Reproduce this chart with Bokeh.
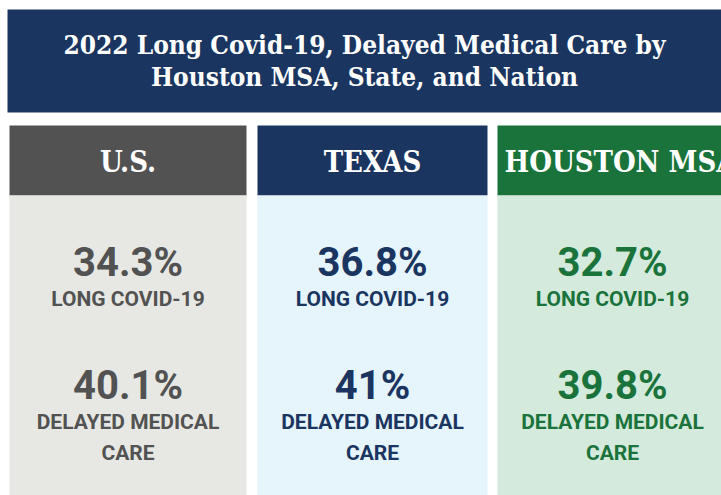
from bokeh.plotting import figure
from bokeh.models import Range1d
from bokeh.core.properties import value
from bokeh.embed import file_html
from bokeh.resources import INLINE

title_lines = ["2022 Long Covid-19, Delayed Medical Care by", "Houston MSA, State, and Nation"]
regions = ["U.S.", "TEXAS", "HOUSTON MSA"]
long_covid = [34.3, 36.8, 32.7]
delayed_care = [40.1, 41.0, 39.8]
long_covid_label = "LONG COVID-19"
delayed_label_lines = ["DELAYED MEDICAL", "CARE"]

header_colors = ["#525252", "#1a3560", "#19733a"]
body_colors = ["#e7e8e4", "#e6f4fc", "#d4eadc"]
col_left = [9, 257, 497]
col_right = [246, 487, 730]

def fmt(v):
    return f"{v:g}%"

p = figure(width=721, height=495, x_range=Range1d(0, 721), y_range=Range1d(495, 0),
           output_backend="svg", toolbar_location=None, min_border=0)
p.axis.visible = False
p.grid.visible = False
p.outline_line_color = None
p.background_fill_color = "white"
p.border_fill_color = "white"

# title bar
p.quad(left=[7], right=[730], top=[9], bottom=[112], fill_color="#1a3560", line_color=None)
title_font = value("DejaVu Serif Condensed")
p.text(x=[364, 364], y=[44, 76], text=title_lines, text_font=title_font, text_font_style="bold",
       text_font_size="26px", text_color="white", text_align="center", text_baseline="alphabetic")

# columns
p.quad(left=col_left, right=col_right, top=[125] * 3, bottom=[195] * 3,
       fill_color=header_colors, line_color=None)
p.quad(left=col_left, right=col_right, top=[195] * 3, bottom=[500] * 3,
       fill_color=body_colors, line_color=None)

centers = [(l + r) / 2 for l, r in zip(col_left, col_right[:2] + [col_left[2] + 230])]
header_x = centers[:2] + [col_left[2] + 7]
header_align = ["center", "center", "left"]
for i in range(3):
    p.text(x=[header_x[i]], y=[161], text=[regions[i]], text_font=title_font,
           text_font_style="bold", text_font_size="29px", text_color="white",
           text_align=header_align[i], text_baseline="alphabetic")

num_font = value("Roboto")
for i in range(3):
    c = header_colors[i]
    cx = centers[i]
    p.text(x=[cx], y=[262], text=[fmt(long_covid[i])], text_font=num_font, text_font_style="bold",
           text_font_size="40px", text_color=c, text_align="center", text_baseline="alphabetic")
    p.text(x=[cx], y=[298], text=[long_covid_label], text_font=num_font, text_font_style="bold",
           text_font_size="21px", text_color=c, text_align="center", text_baseline="alphabetic")
    p.text(x=[cx], y=[385], text=[fmt(delayed_care[i])], text_font=num_font, text_font_style="bold",
           text_font_size="40px", text_color=c, text_align="center", text_baseline="alphabetic")
    p.text(x=[cx, cx], y=[421, 452], text=delayed_label_lines, text_font=num_font, text_font_style="bold",
           text_font_size="21px", text_color=c, text_align="center", text_baseline="alphabetic")

open("out.html", "w").write(file_html(p, INLINE))
